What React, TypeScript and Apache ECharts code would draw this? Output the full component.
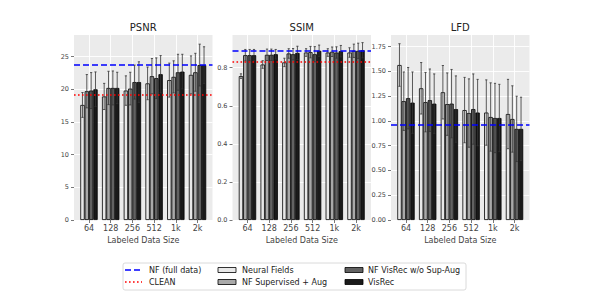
import React, { useEffect, useRef } from "react";
import * as echarts from "echarts";

// ---------- data ----------
const categories = ["64", "128", "256", "512", "1k", "2k"];
const seriesNames = ["Neural Fields", "NF Supervised + Aug", "NF VisRec w/o Sup-Aug", "VisRec"];
const refNames = ["NF (full data)", "CLEAN"];
const panelTitles = ["PSNR", "SSIM", "LFD"];
const xAxisTitle = "Labeled Data Size";

// PSNR
const psnrNF = [17.6, 18.9, 19.8, 20.9, 21.4, 22.2];
const psnrSup = [19.7, 20.2, 20.1, 22.0, 21.9, 22.6];
const psnrWo = [19.8, 20.2, 21.1, 21.7, 22.6, 23.7];
const psnrVR = [20.0, 20.2, 21.1, 22.3, 22.7, 23.7];
const psnrErrNF = [1.9, 2.0, 2.25, 2.5, 2.6, 2.9];
const psnrErrSup = [2.55, 2.55, 2.5, 2.7, 2.45, 2.9];
const psnrErrWo = [2.75, 2.6, 2.6, 3.1, 2.75, 3.2];
const psnrErrVR = [2.65, 2.4, 3.1, 2.85, 2.65, 2.8];
const psnrFull = 23.7;
const psnrClean = 19.2;
const psnrTicks = [0, 5, 10, 15, 20, 25];

// SSIM
const ssimNF = [0.756, 0.817, 0.828, 0.88, 0.88, 0.88];
const ssimSup = [0.866, 0.868, 0.875, 0.882, 0.884, 0.889];
const ssimWo = [0.866, 0.868, 0.871, 0.871, 0.88, 0.889];
const ssimVR = [0.866, 0.871, 0.878, 0.889, 0.887, 0.892];
const ssimErrNF = [0.012, 0.02, 0.022, 0.02, 0.02, 0.025];
const ssimErrSup = [0.03, 0.03, 0.025, 0.03, 0.025, 0.035];
const ssimErrWo = [0.03, 0.03, 0.03, 0.04, 0.03, 0.04];
const ssimErrVR = [0.03, 0.025, 0.035, 0.03, 0.03, 0.04];
const ssimFull = 0.892;
const ssimClean = 0.831;
const ssimTicks = [0, 0.2, 0.4, 0.6, 0.8];

// LFD
const lfdNF = [1.565, 1.33, 1.29, 1.11, 1.085, 1.07];
const lfdSup = [1.2, 1.19, 1.17, 1.08, 1.04, 1.02];
const lfdWo = [1.23, 1.21, 1.175, 1.12, 1.03, 0.92];
const lfdVR = [1.185, 1.175, 1.12, 1.085, 1.03, 0.92];
const lfdErrNF = [0.215, 0.26, 0.27, 0.33, 0.33, 0.35];
const lfdErrSup = [0.295, 0.3, 0.315, 0.345, 0.345, 0.335];
const lfdErrWo = [0.31, 0.315, 0.345, 0.355, 0.35, 0.33];
const lfdErrVR = [0.31, 0.3, 0.335, 0.335, 0.34, 0.32];
const lfdFull = 0.96;
const lfdTicks = [0, 0.25, 0.5, 0.75, 1.0, 1.25, 1.5, 1.75];

// ---------- styling ----------
const FONT = "DejaVu Sans";
const barColors = ["#e8e8e8", "#a9a9a9", "#626262", "#1a1a1a"];
const fullColor = "#0000ff";
const cleanColor = "#ff0000";
const gridLefts = [74, 232.5, 391];
const GRID_W = 138.5;
const GRID_TOP = 35;
const GRID_H = 185;

type Panel = {
  title: string;
  values: number[][];
  errs: number[][];
  max: number;
  ticks: number[];
  interval: number;
  decimals: number;
  full: number;
  clean: number | null;
};

const panels: Panel[] = [
  {
    title: panelTitles[0],
    values: [psnrNF, psnrSup, psnrWo, psnrVR],
    errs: [psnrErrNF, psnrErrSup, psnrErrWo, psnrErrVR],
    max: 28.3,
    ticks: psnrTicks,
    interval: 5,
    decimals: 0,
    full: psnrFull,
    clean: psnrClean,
  },
  {
    title: panelTitles[1],
    values: [ssimNF, ssimSup, ssimWo, ssimVR],
    errs: [ssimErrNF, ssimErrSup, ssimErrWo, ssimErrVR],
    max: 0.972,
    ticks: ssimTicks,
    interval: 0.2,
    decimals: 1,
    full: ssimFull,
    clean: ssimClean,
  },
  {
    title: panelTitles[2],
    values: [lfdNF, lfdSup, lfdWo, lfdVR],
    errs: [lfdErrNF, lfdErrSup, lfdErrWo, lfdErrVR],
    max: 1.868,
    ticks: lfdTicks,
    interval: 0.25,
    decimals: 2,
    full: lfdFull,
    clean: null,
  },
];

const X_MIN = -0.69;
const X_MAX = 5.69;
const catIdx = categories.map((_, i) => i);

function buildOption() {
  const grid: any[] = [];
  const xAxis: any[] = [];
  const yAxis: any[] = [];
  const series: any[] = [];
  const graphic: any[] = [];

  panels.forEach((p, i) => {
    grid.push({
      left: gridLefts[i],
      top: GRID_TOP,
      width: GRID_W,
      height: GRID_H,
      show: true,
      backgroundColor: "#ebebeb",
      borderWidth: 0,
      outerBoundsMode: "none",
      containLabel: false,
    });
    xAxis.push({
      gridIndex: i,
      type: "value",
      position: "bottom",
      min: X_MIN,
      max: X_MAX,
      axisLine: { show: false, onZero: false },
      axisTick: { show: true, customValues: catIdx, length: 3, lineStyle: { color: "#555", width: 0.8 } },
      axisLabel: {
        customValues: catIdx,
        formatter: (v: number) => categories[Math.round(v)],
        fontFamily: FONT,
        fontSize: 8,
        color: "#444",
        margin: 4,
      },
      splitLine: { show: true, lineStyle: { color: "#ffffff", width: 0.9 } },
      name: xAxisTitle,
      nameLocation: "middle",
      nameGap: 15,
      nameTextStyle: { fontFamily: FONT, fontSize: 8, color: "#444" },
    });
    yAxis.push({
      gridIndex: i,
      type: "value",
      position: "left",
      min: 0,
      max: p.max,
      interval: p.interval,
      axisLine: { show: false, onZero: false },
      axisTick: { show: true, customValues: p.ticks, length: 3, lineStyle: { color: "#555", width: 0.8 } },
      axisLabel: {
        customValues: p.ticks,
        formatter: (v: number) => v.toFixed(p.decimals),
        fontFamily: FONT,
        fontSize: 6.5,
        color: "#444",
        margin: 5,
      },
      splitLine: { show: true, lineStyle: { color: "#ffffff", width: 0.9 } },
    });

    // bars
    p.values.forEach((vals, k) => {
      const s: any = {
        type: "bar",
        name: seriesNames[k],
        xAxisIndex: i,
        yAxisIndex: i,
        data: vals.map((v, j) => [j, v]),
        barGap: "0%",
        barCategoryGap: "20%",
        z: 2,
        itemStyle: { color: barColors[k], borderColor: "#000", borderWidth: 0.8 },
      };
      if (k === 0) {
        const ml: any[] = [
          { yAxis: p.full, lineStyle: { color: fullColor, type: [6, 3], width: 1.6 } },
        ];
        if (p.clean !== null) {
          ml.push({ yAxis: p.clean, lineStyle: { color: cleanColor, type: [1.6, 2.4], width: 1.6 } });
        }
        s.markLine = {
          silent: true,
          symbol: ["none", "none"],
          label: { show: false },
          z: 6,
          data: ml,
        };
      }
      series.push(s);
    });

    // error bars
    const errData: number[][] = [];
    p.values.forEach((vals, k) => {
      vals.forEach((v, j) => errData.push([j, k, v, p.errs[k][j]]));
    });
    series.push({
      type: "custom",
      xAxisIndex: i,
      yAxisIndex: i,
      z: 3,
      silent: true,
      data: errData,
      encode: { x: 0, y: 2 },
      renderItem: (_params: any, api: any) => {
        const j = api.value(0);
        const k = api.value(1);
        const v = api.value(2);
        const e = api.value(3);
        const xc = j - 0.4 + (k + 0.5) * 0.2;
        const t = api.coord([xc, v + e]);
        const b = api.coord([xc, v - e]);
        const cap = 1.1;
        const st = { stroke: "#333", lineWidth: 0.8 };
        return {
          type: "group",
          children: [
            { type: "line", shape: { x1: t[0], y1: t[1], x2: b[0], y2: b[1] }, style: st },
            { type: "line", shape: { x1: t[0] - cap, y1: t[1], x2: t[0] + cap, y2: t[1] }, style: st },
            { type: "line", shape: { x1: b[0] - cap, y1: b[1], x2: b[0] + cap, y2: b[1] }, style: st },
          ],
        };
      },
    });

    graphic.push({
      type: "text",
      x: gridLefts[i] + GRID_W / 2,
      y: 27,
      style: {
        text: p.title,
        fontFamily: FONT,
        fontSize: 10,
        fill: "#222",
        align: "center",
        verticalAlign: "middle",
      },
    });
  });

  // legend
  const LFS = 8;
  const rowY = [270, 282];
  graphic.push({
    type: "rect",
    shape: { x: 123, y: 263, width: 343, height: 27, r: 2 },
    style: { fill: "#ffffff", stroke: "#d0d0d0", lineWidth: 0.8 },
  });
  graphic.push({
    type: "line",
    shape: { x1: 125, y1: rowY[0], x2: 142, y2: rowY[0] },
    style: { stroke: fullColor, lineWidth: 1.6, lineDash: [6, 3] },
  });
  graphic.push({
    type: "line",
    shape: { x1: 125, y1: rowY[1], x2: 142, y2: rowY[1] },
    style: { stroke: cleanColor, lineWidth: 1.6, lineDash: [1.6, 2.4] },
  });
  refNames.forEach((n, r) => {
    graphic.push({
      type: "text",
      x: 149,
      y: rowY[r],
      style: { text: n, fontFamily: FONT, fontSize: LFS, fill: "#222", verticalAlign: "middle" },
    });
  });
  const colX = [218, 345];
  const textX = [242, 368];
  seriesNames.forEach((n, k) => {
    const c = Math.floor(k / 2);
    const r = k % 2;
    graphic.push({
      type: "rect",
      shape: { x: colX[c], y: rowY[r] - 2.5, width: 18, height: 5 },
      style: { fill: barColors[k], stroke: "#000", lineWidth: 0.8 },
    });
    graphic.push({
      type: "text",
      x: textX[c],
      y: rowY[r],
      style: { text: n, fontFamily: FONT, fontSize: LFS, fill: "#222", verticalAlign: "middle" },
    });
  });

  return {
    animation: false,
    backgroundColor: "#ffffff",
    textStyle: { fontFamily: FONT },
    grid,
    xAxis,
    yAxis,
    series,
    graphic,
  };
}

export default function App() {
  const ref = useRef<HTMLDivElement>(null);
  useEffect(() => {
    if (!ref.current) return;
    const chart = echarts.init(ref.current, null, { renderer: "svg" });
    chart.setOption(buildOption() as any);
    return () => chart.dispose();
  }, []);
  return (
    <div
      ref={ref}
      style={{ position: "fixed", left: 0, top: 0, width: 589, height: 294 }}
    />
  );
}
